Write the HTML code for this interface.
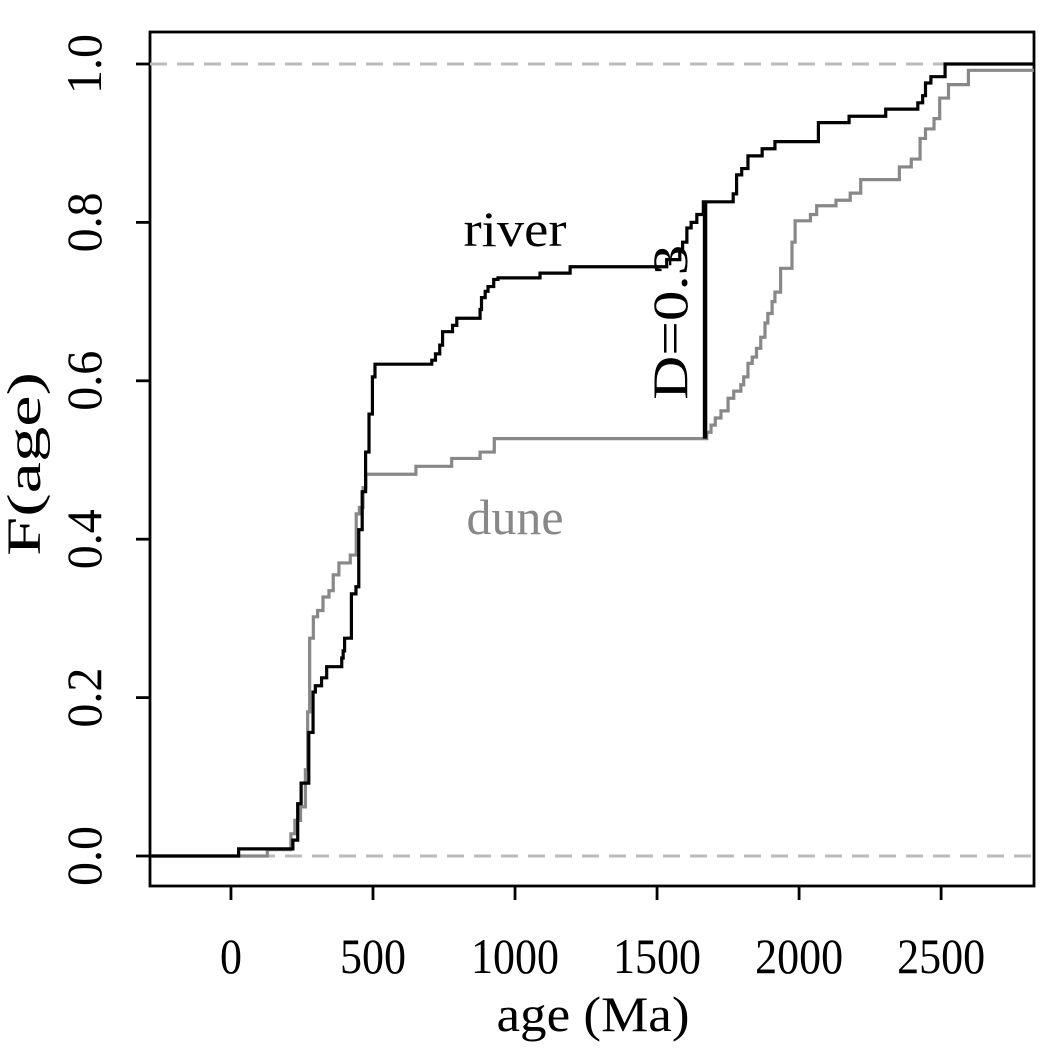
<!DOCTYPE html>
<html><head><meta charset="utf-8"><style>
html,body{margin:0;padding:0;background:#fff;}
svg text{font-family:"Liberation Serif",serif;}
</style></head><body>
<svg id="chart" width="1050" height="1050" viewBox="0 0 1050 1050" xmlns="http://www.w3.org/2000/svg">
<rect x="150" y="32" width="884" height="854" fill="none" stroke="#000" stroke-width="2.8"/>
<g id="xt"></g>
<g id="yt"></g>
<g id="marks"></g>
<text x="593" y="1031" font-size="50" text-anchor="middle" textLength="193" lengthAdjust="spacingAndGlyphs">age (Ma)</text>
<text transform="translate(40,464) rotate(-90)" font-size="48" text-anchor="middle" textLength="184" lengthAdjust="spacingAndGlyphs">F(age)</text>
<text x="515" y="246" font-size="50" text-anchor="middle" textLength="103" lengthAdjust="spacingAndGlyphs">river</text>
<text x="515" y="534" font-size="50" text-anchor="middle" fill="#888" textLength="97" lengthAdjust="spacingAndGlyphs">dune</text>
</svg>
<script>
const xTicks=[0,500,1000,1500,2000,2500];
const yTicks=[0.0,0.2,0.4,0.6,0.8,1.0];
const yTickLabels=["0.0","0.2","0.4","0.6","0.8","1.0"];
const riverAge=[27,218,235,247,274,289,297,319,337,390,395,400,424,440,450,462,474,486,498,507,707,720,735,745,780,795,877,882,895,905,925,940,1088,1194,1534,1580,1590,1605,1620,1640,1663,1768,1780,1798,1820,1870,1915,2068,2176,2305,2418,2435,2445,2464,2514];
const riverF=[0.009,0.02,0.066,0.092,0.156,0.207,0.215,0.225,0.239,0.25,0.259,0.275,0.331,0.34,0.412,0.46,0.51,0.558,0.605,0.621,0.626,0.634,0.645,0.662,0.67,0.679,0.69,0.705,0.713,0.719,0.728,0.73,0.736,0.744,0.753,0.765,0.775,0.793,0.80,0.81,0.826,0.836,0.86,0.868,0.884,0.893,0.902,0.926,0.934,0.943,0.951,0.96,0.976,0.984,1.0];
const duneAge=[128,211,225,245,262,270,277,290,305,324,345,360,380,420,441,452,465,475,651,777,877,927,1675,1690,1705,1725,1750,1770,1795,1805,1820,1835,1850,1865,1880,1890,1905,1915,1935,1975,1986,2040,2062,2130,2180,2217,2353,2395,2426,2445,2475,2495,2526,2596];
const duneF=[0.008,0.028,0.045,0.062,0.109,0.182,0.275,0.302,0.31,0.327,0.335,0.355,0.370,0.38,0.432,0.44,0.465,0.482,0.492,0.502,0.51,0.527,0.535,0.544,0.553,0.562,0.578,0.587,0.595,0.605,0.622,0.63,0.641,0.655,0.673,0.685,0.70,0.712,0.742,0.775,0.802,0.81,0.821,0.828,0.837,0.854,0.870,0.880,0.906,0.918,0.931,0.957,0.974,0.992];
const dAge=1669, dLabel="D=0.3";
const X0=-285,X1=2827;
const xs=a=>150+(a-X0)/(X1-X0)*884;
const ys=f=>856-f*792;
const NS="http://www.w3.org/2000/svg";
function mk(tag,attrs,parent){const e=document.createElementNS(NS,tag);for(const k in attrs)e.setAttribute(k,attrs[k]);parent.appendChild(e);return e;}
const xt=document.getElementById('xt'),yt=document.getElementById('yt'),marks=document.getElementById('marks');
xTicks.forEach(v=>{
 const l=mk('line',{x1:xs(v),x2:xs(v),y1:886,y2:900,stroke:'#000','stroke-width':2.8},xt);
 
 
 const s=String(v);
 const t=mk('text',{x:xs(v),y:973,'font-size':50,'text-anchor':'middle',textLength:22*s.length,lengthAdjust:'spacingAndGlyphs'},xt);t.textContent=s;
 
 
});
yTicks.forEach((v,i)=>{
 const l=mk('line',{x1:136,x2:150,y1:ys(v),y2:ys(v),stroke:'#000','stroke-width':2.8},yt);
 
 
 const t=mk('text',{transform:`translate(101,${ys(v)}) rotate(-90)`,'font-size':50,'text-anchor':'middle',textLength:60,lengthAdjust:'spacingAndGlyphs'},yt);t.textContent=yTickLabels[i];
 
 
});
[0,1].forEach(v=>{
 const l=mk('line',{x1:150,x2:1034,y1:ys(v),y2:ys(v),stroke:'#bbb','stroke-width':3,'stroke-dasharray':'17,10'},marks);
 
 
});
function stepPath(ages,fs){
 let d=`M150,${ys(0)}`;let prev=0;
 ages.forEach((a,i)=>{d+=` L${xs(a)},${ys(prev)} L${xs(a)},${ys(fs[i])}`;prev=fs[i];});
 d+=` L1034,${ys(prev)}`;return d;
}
const pd=mk('path',{d:stepPath(duneAge,duneF),fill:'none',stroke:'#888','stroke-width':3.2},marks);


const pr=mk('path',{d:stepPath(riverAge,riverF),fill:'none',stroke:'#000','stroke-width':3.2},marks);


function fAt(ages,fs,a){let f=0;ages.forEach((x,i)=>{if(x<=a)f=fs[i];});return f;}
const fr=fAt(riverAge,riverF,dAge),fd=fAt(duneAge,duneF,dAge);
const dl=mk('line',{x1:xs(dAge),x2:xs(dAge),y1:ys(fr),y2:ys(fd),stroke:'#000','stroke-width':4.5},marks);


const dt=mk('text',{transform:`translate(${xs(dAge)-18},${(ys(fr)+ys(fd))/2+2}) rotate(-90)`,'font-size':50,'text-anchor':'middle',textLength:155,lengthAdjust:'spacingAndGlyphs'},marks);
dt.textContent=dLabel;


</script>
</body></html>
